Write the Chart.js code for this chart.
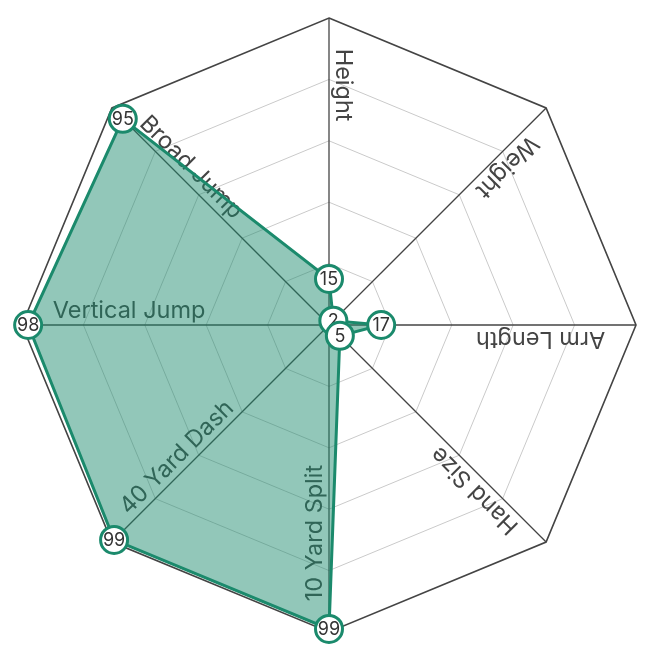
<!DOCTYPE html>
<html>
<head>
<meta charset="utf-8">
<script src="https://cdn.jsdelivr.net/npm/chart.js@4"></script>
<style>
  html, body { margin: 0; padding: 0; background: #fff; }
  #wrap { width: 650px; height: 658px; }
</style>
</head>
<body>
<div id="wrap"><canvas id="combine-radar"></canvas></div>
<script>
'use strict';

// combine measurables, percentile per drill
var drillLabels = ['Height', 'Weight', 'Arm Length', 'Hand Size', '10 Yard Split', '40 Yard Dash', 'Vertical Jump', 'Broad Jump'];
var percentiles = [15, 2, 17, 5, 99, 99, 98, 95];
var scaleMin = 0;
var scaleMax = 100;
var scaleStep = 20;

var lineColor = '#1b8a6c';
var fillColor = 'rgba(27, 138, 108, 0.48)';

// axis names drawn along each spoke, under the filled area
var axisLabelPlugin = {
  id: 'axisLabels',
  beforeDatasetsDraw: function(chart) {
    var scale = chart.scales.r;
    var ctx = chart.ctx;
    ctx.save();
    ctx.font = '23.5px Inter';
    ctx.fillStyle = '#444';
    ctx.textAlign = 'left';
    ctx.textBaseline = 'alphabetic';
    drillLabels.forEach(function(label, i) {
      var angle = scale.getIndexAngle(i) - Math.PI / 2;
      var start = scale.getPointPosition(i, scale.drawingArea * 0.9);
      ctx.save();
      ctx.translate(start.x, start.y);
      ctx.rotate(angle + Math.PI);
      ctx.fillText(label, 0, -7);
      ctx.restore();
    });
    ctx.restore();
  }
};

// white badges with the percentile, drawn in point order
var badgePlugin = {
  id: 'badges',
  afterDatasetsDraw: function(chart) {
    var ctx = chart.ctx;
    var meta = chart.getDatasetMeta(0);
    ctx.save();
    ctx.font = '18px Inter';
    ctx.textAlign = 'center';
    ctx.textBaseline = 'middle';
    meta.data.forEach(function(pt, i) {
      ctx.beginPath();
      ctx.arc(pt.x, pt.y, 13.5, 0, Math.PI * 2);
      ctx.fillStyle = '#fff';
      ctx.fill();
      ctx.lineWidth = 3;
      ctx.strokeStyle = lineColor;
      ctx.stroke();
      ctx.fillStyle = '#333';
      ctx.fillText(String(percentiles[i]), pt.x, pt.y + 1);
    });
    ctx.restore();
  }
};

createRadar();

function createRadar() {
  var ctx = document.getElementById('combine-radar');
  Chart.defaults.font.family = 'Inter';
  var radar = new Chart(ctx, {
    type: 'radar',
    data: {
      labels: drillLabels,
      datasets: [
        {
          label: 'Percentile',
          data: percentiles,
          borderColor: lineColor,
          backgroundColor: fillColor,
          borderWidth: 3,
          fill: true,
          pointRadius: 0,
          pointHoverRadius: 0,
          pointHitRadius: 0
        }]
    },
    options: {
      responsive: true,
      maintainAspectRatio: false,
      animation: false,
      layout: {
        padding: { left: 22, right: 14, top: 18, bottom: 26 }
      },
      plugins: {
        legend: { display: false },
        tooltip: { enabled: false }
      },
      scales: {
        r: {
          min: scaleMin,
          max: scaleMax,
          ticks: { display: false, stepSize: scaleStep },
          pointLabels: { display: false },
          angleLines: { color: '#444', lineWidth: 1.3 },
          grid: {
            color: function(c) {
              return c.tick && c.tick.value === scaleMax ? '#444' : '#cacaca';
            },
            lineWidth: function(c) {
              return c.tick && c.tick.value === scaleMax ? 1.6 : 1;
            }
          }
        }
      }
    },
    plugins: [axisLabelPlugin, badgePlugin]
  });
}
</script>
</body>
</html>
